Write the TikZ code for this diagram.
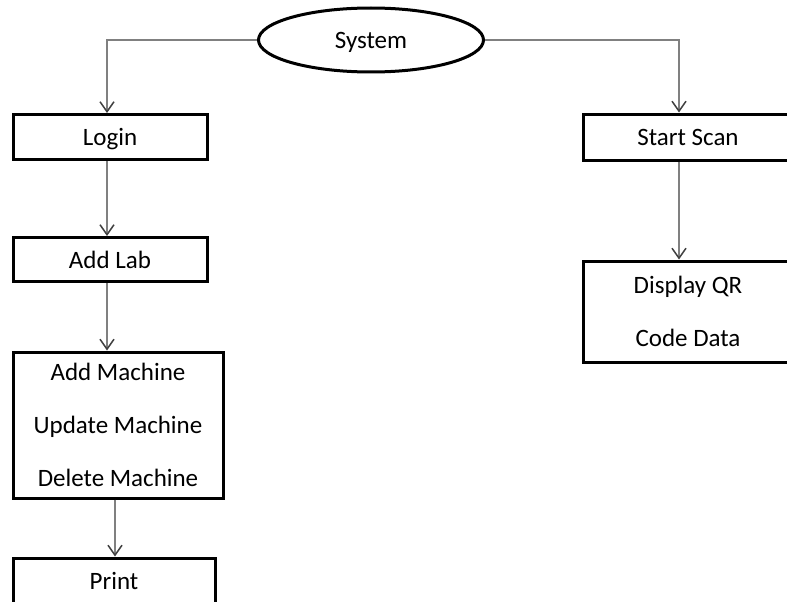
\documentclass[tikz,border=0pt]{standalone}
\usepackage{fontspec}
\setmainfont{Carlito}
\usetikzlibrary{shapes.geometric,arrows.meta}
\definecolor{conn}{HTML}{808080}
\definecolor{tipc}{HTML}{404040}
\tikzset{
  box/.style={draw=black, line width=3pt, rectangle, inner sep=0pt, align=center,
    font=\fontsize{25}{53}\selectfont},
  lowtext/.style={text depth=0pt},
  oval/.style={draw=black, line width=3pt, ellipse, inner sep=0pt,
    font=\fontsize{25}{30}\selectfont},
  conn/.style={draw=conn, line width=1.5pt, -{Straight Barb[length=10pt,width=14pt,line width=1.5pt,color=tipc]}}
}
\begin{document}
\begin{tikzpicture}[x=1pt,y=-1pt]
\useasboundingbox (0,0) rectangle (787,602);
\clip (0,0) rectangle (787,602);
\fill[white] (0,0) rectangle (787,602);
\node[oval, lowtext, minimum width=225pt, minimum height=64pt] (sys) at (371,40) {System};
\node[box, lowtext, minimum width=194pt, minimum height=45pt] (login) at (110,137) {Login};
\node[box, lowtext, minimum width=194pt, minimum height=44pt] (addlab) at (110,259.5) {Add Lab};
\node[box, minimum width=210pt, minimum height=146pt] (mach) at (118,425) {Add Machine\\Update Machine\\Delete Machine};
\node[box, lowtext, minimum width=202pt, minimum height=46pt] (print) at (114,581) {Print};
\node[box, minimum width=210pt, minimum height=46pt] (start) at (688,137) {Start Scan};
\node[box, minimum width=210pt, minimum height=101pt] (disp) at (688,311.5) {Display QR\\Code Data};
\coordinate (lc) at (107,0);
\coordinate (rc) at (679,0);
\draw[conn] (sys.west) -| (lc |- login.north);
\draw[conn] (sys.east) -| (rc |- start.north);
\draw[conn] (lc |- login.south) -- (lc |- addlab.north);
\draw[conn] (lc |- addlab.south) -- (lc |- mach.north);
\draw[conn] ([xshift=-3pt]mach.south) -- ([xshift=-3pt]mach.south |- print.north);
\draw[conn] (rc |- start.south) -- (rc |- disp.north);
\end{tikzpicture}
\end{document}
